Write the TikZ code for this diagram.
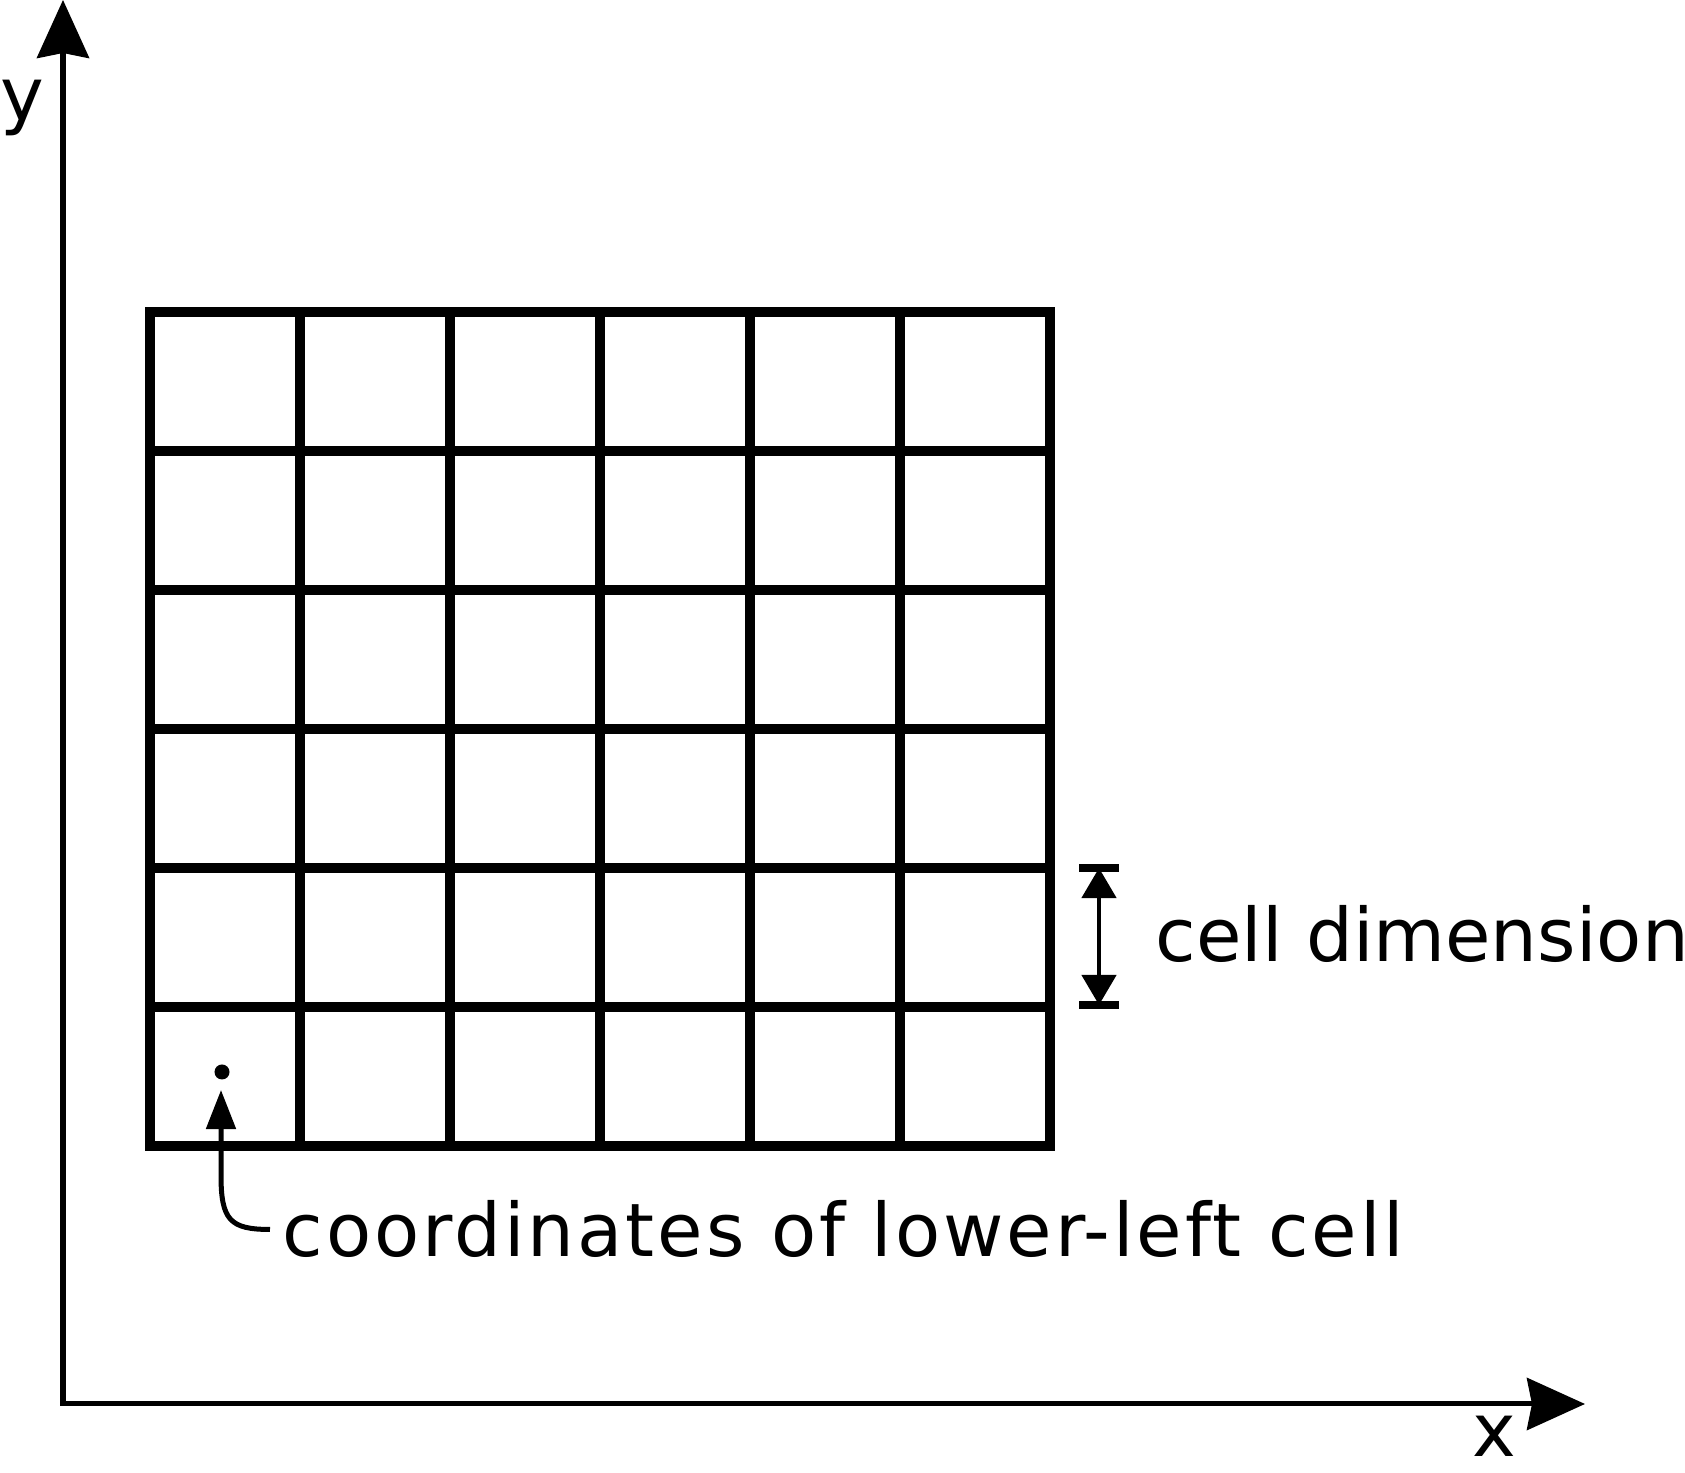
\documentclass[tikz,border=0pt]{standalone}
\usepackage{fontspec}
\setmainfont{DejaVu Sans}
\usetikzlibrary{arrows.meta}

\begin{document}
\begin{tikzpicture}[x=0.01cm,y=0.01cm]
    \tikzset{axis/.style = {line width=0.05cm,line cap=rect,-{Stealth[length=0.58cm,width=0.52cm,inset=0.05cm]}}}
    \tikzset{gridline/.style = {line width=0.1cm,line cap=rect}}
    \tikzset{txt/.style = {inner sep=0pt,font=\fontsize{21}{25}\selectfont}}
    \tikzset{pointer/.style = {line width=0.05cm,-{Triangle[length=0.39cm,width=0.29cm]}}}
    \tikzset{dimline/.style = {line width=0.045cm,{Triangle[length=0.3cm,width=0.34cm]}-{Triangle[length=0.3cm,width=0.34cm]}}}
    \tikzset{dimbar/.style = {line width=0.08cm}}
    \tikzset{dot/.style = {shape=circle,fill,inner sep=0pt,minimum size=0.15cm}}

    \useasboundingbox (0,0) rectangle (1685,1473);

    % axes
    \coordinate (o) at (63,69);
    \coordinate (ytop) at (63,1473);
    \coordinate (xend) at (1585,69);
    \draw[axis] (o) -- (ytop);
    \draw[axis] (o) -- (xend);
    \node[txt,anchor=base west] (ylab) at (0,1352) {y};
    \node[txt,anchor=base] (xlab) at (1494,16) {x};

    % grid
    \foreach \i in {0,...,6} {
        \draw[gridline] (150+150*\i,327) -- (150+150*\i,1161);
        \draw[gridline] (150,327+139*\i) -- (1050,327+139*\i);
    }

    % cell dimension
    \coordinate (dimtop) at (1099,605);
    \coordinate (dimbot) at (1099,468);
    \draw[dimline] (dimtop) -- (dimbot);
    \draw[dimbar] ([xshift=-0.2cm]dimtop) -- ([xshift=0.2cm]dimtop);
    \draw[dimbar] ([xshift=-0.2cm]dimbot) -- ([xshift=0.2cm]dimbot);
    \node[txt,anchor=base west] (dimlab) at (1155,511) {cell dimension};

    % lower-left cell
    \node[dot] (pt) at (222,401) {};
    \coordinate (tip) at (221,383);
    \node[txt,anchor=base west] (coordlab) at (282,216) {\addfontfeature{LetterSpace=4}coordinates of lower-left cell};
    \draw[pointer] ([xshift=-0.12cm]coordlab.west) .. controls +(-0.4cm,0) and +(0,-0.45cm) .. ([yshift=-0.85cm]tip) -- (tip);
\end{tikzpicture}
\end{document}
